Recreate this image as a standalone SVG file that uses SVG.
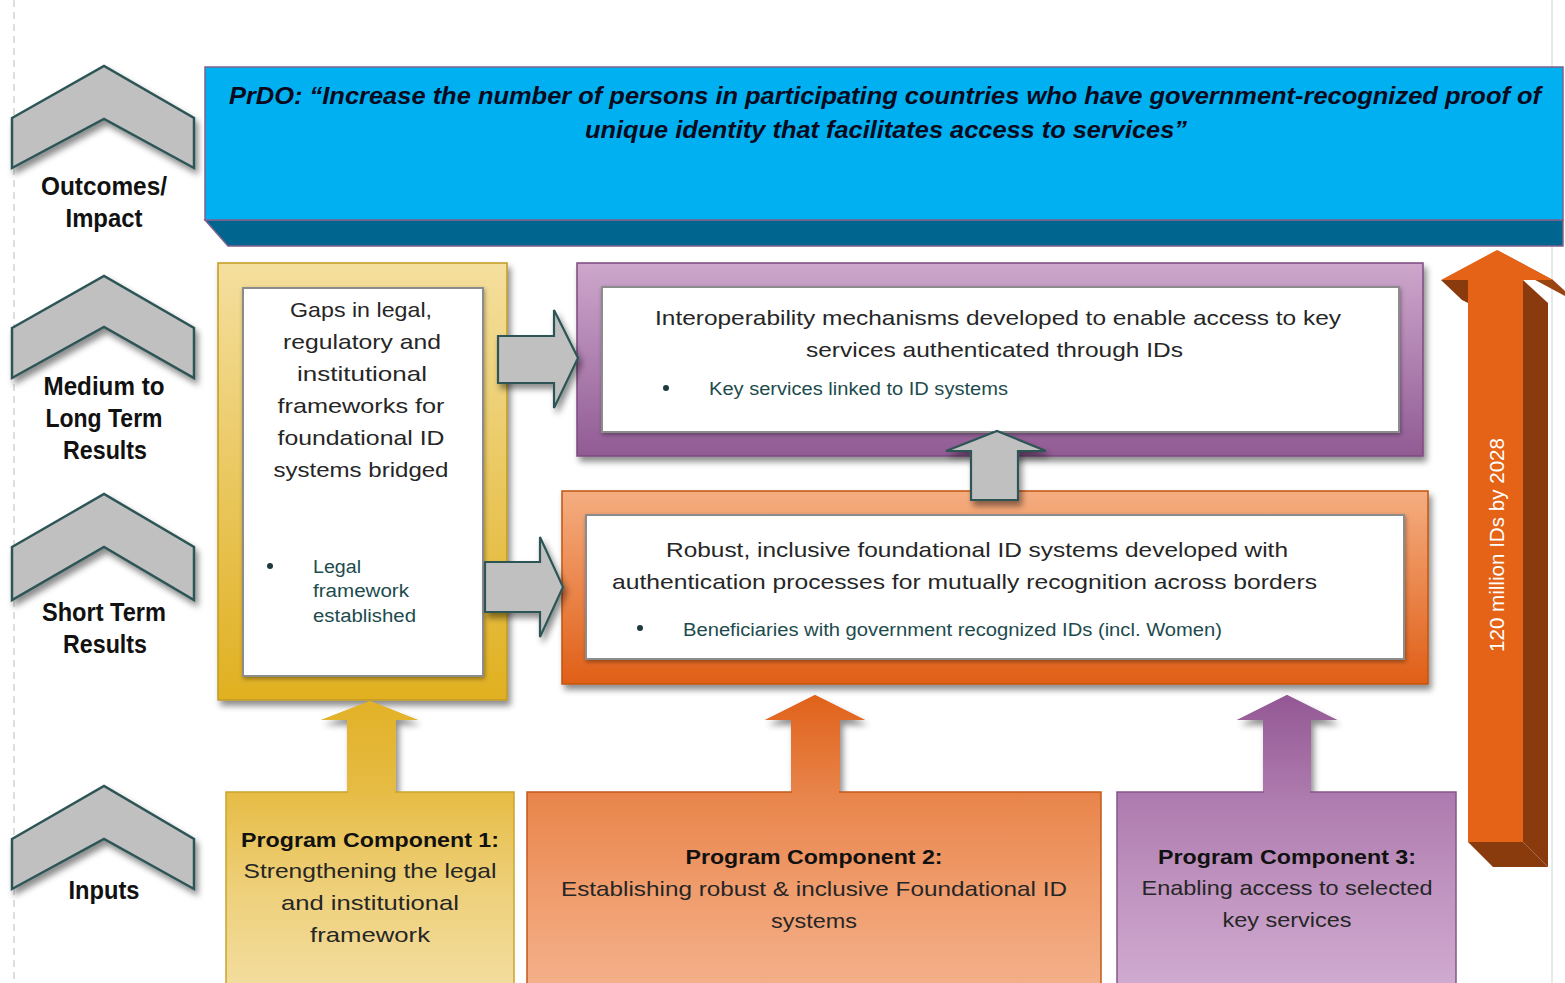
<svg xmlns="http://www.w3.org/2000/svg" width="1565" height="983" viewBox="0 0 1565 983">
<defs>
<style>
.lbl{font-family:"Liberation Sans",Arial,sans-serif;font-weight:bold;font-size:25px;fill:#111;text-anchor:middle}
.body{font-family:"Liberation Sans",Arial,sans-serif;font-size:21px;fill:#262626}
.bul{font-family:"Liberation Sans",Arial,sans-serif;font-size:18px;fill:#1d4b4d}
.top{font-family:"Liberation Sans",Arial,sans-serif;font-size:24px;font-weight:bold;font-style:italic;fill:#0a0a1e}
.bold{font-weight:bold;fill:#111}
.chev{fill:#c0c0c0;stroke:#2e5557;stroke-width:2.5;stroke-linejoin:miter}
.garrow{fill:#c0c0c0;stroke:#2e5557;stroke-width:2.2}
.inner{fill:#ffffff;stroke:#8c8c8c;stroke-width:2}
</style>
<filter id="sh" x="-10%" y="-10%" width="125%" height="130%">
<feDropShadow dx="3" dy="5" stdDeviation="3" flood-color="#000" flood-opacity="0.45"/>
</filter>
<filter id="shi" x="-5%" y="-5%" width="110%" height="110%">
<feDropShadow dx="1" dy="2" stdDeviation="2" flood-color="#000" flood-opacity="0.35"/>
</filter>
<linearGradient id="gy" x1="0" y1="0" x2="0" y2="1"><stop offset="0" stop-color="#f4df9e"/><stop offset="1" stop-color="#e0b020"/></linearGradient>
<linearGradient id="gp" x1="0" y1="0" x2="0" y2="1"><stop offset="0" stop-color="#cda7cc"/><stop offset="1" stop-color="#915b94"/></linearGradient>
<linearGradient id="go" x1="0" y1="0" x2="0" y2="1"><stop offset="0" stop-color="#f5ad80"/><stop offset="1" stop-color="#e05f17"/></linearGradient>
<linearGradient id="gyi" x1="0" y1="0" x2="0" y2="1"><stop offset="0" stop-color="#e6bc45"/><stop offset="0.5" stop-color="#eed07a"/><stop offset="1" stop-color="#f3dd9f"/></linearGradient>
<linearGradient id="goi" x1="0" y1="0" x2="0" y2="1"><stop offset="0" stop-color="#e8844a"/><stop offset="0.5" stop-color="#f09c6c"/><stop offset="1" stop-color="#f4b08a"/></linearGradient>
<linearGradient id="gpi" x1="0" y1="0" x2="0" y2="1"><stop offset="0" stop-color="#ad7aad"/><stop offset="0.5" stop-color="#c094c0"/><stop offset="1" stop-color="#d0abd0"/></linearGradient>
<linearGradient id="ayi" x1="0" y1="0" x2="0" y2="1"><stop offset="0" stop-color="#e2b126"/><stop offset="1" stop-color="#e6bc45"/></linearGradient>
<linearGradient id="aoi" x1="0" y1="0" x2="0" y2="1"><stop offset="0" stop-color="#e0621a"/><stop offset="1" stop-color="#e8844a"/></linearGradient>
<linearGradient id="api" x1="0" y1="0" x2="0" y2="1"><stop offset="0" stop-color="#935894"/><stop offset="1" stop-color="#ad7aad"/></linearGradient>
</defs>
<rect width="1565" height="983" fill="#ffffff"/>
<line x1="14" y1="0" x2="14" y2="983" stroke="#d4d4d4" stroke-width="1.5" stroke-dasharray="7,5"/>
<line x1="1552" y1="0" x2="1552" y2="983" stroke="#dcdcdc" stroke-width="1.2"/>

<g id="chevron-outcomes">
<path class="chev" filter="url(#sh)" d="M12,118 L104,66 L194,118 L194,168 L104,119 L12,168 Z"/>
<text class="lbl" x="104" y="195" textLength="126" lengthAdjust="spacingAndGlyphs">Outcomes/</text>
<text class="lbl" x="104" y="227" textLength="77" lengthAdjust="spacingAndGlyphs">Impact</text>
</g>
<g id="chevron-medium">
<path class="chev" filter="url(#sh)" d="M12,328 L104,276 L194,328 L194,378 L104,327 L12,378 Z"/>
<text class="lbl" x="104" y="395" textLength="121" lengthAdjust="spacingAndGlyphs">Medium to</text>
<text class="lbl" x="104" y="427" textLength="117" lengthAdjust="spacingAndGlyphs">Long Term</text>
<text class="lbl" x="105" y="459" textLength="84" lengthAdjust="spacingAndGlyphs">Results</text>
</g>
<g id="chevron-short">
<path class="chev" filter="url(#sh)" d="M12,547 L104,494 L194,547 L194,600 L104,547 L12,600 Z"/>
<text class="lbl" x="104" y="621" textLength="124" lengthAdjust="spacingAndGlyphs">Short Term</text>
<text class="lbl" x="105" y="653" textLength="84" lengthAdjust="spacingAndGlyphs">Results</text>
</g>
<g id="chevron-inputs">
<path class="chev" filter="url(#sh)" d="M12,839 L104,786 L194,839 L194,889 L104,839 L12,889 Z"/>
<text class="lbl" x="104" y="899" textLength="71" lengthAdjust="spacingAndGlyphs">Inputs</text>
</g>

<g id="prdo">
<path d="M205,220 L1563,220 L1563,246 L228,246 Z" fill="#00668f" stroke="#80608a" stroke-width="1.5"/>
<rect x="205" y="67" width="1358" height="153" fill="#00b0f0" stroke="#80608a" stroke-width="1.5"/>
<text class="top" x="229" y="104" textLength="1312" lengthAdjust="spacingAndGlyphs">PrDO: “Increase the number of persons in participating countries who have government-recognized proof of</text>
<text class="top" x="585" y="138" textLength="602" lengthAdjust="spacingAndGlyphs">unique identity that facilitates access to services”</text>
</g>

<g id="ids-arrow">
<polygon points="1523,280 1548,303 1548,867 1523,842" fill="#8a3b0e"/>
<polygon points="1468,842 1523,842 1548,867 1493,867" fill="#8a3b0e"/>
<polygon points="1497,250 1553,280 1578,303 1522,273" fill="#9a4412"/>
<polygon points="1441,280 1468,280 1468,303 1462,300" fill="#8a3b0e"/>
<polygon points="1497,250 1553,280 1523,280 1523,842 1468,842 1468,280 1441,280" fill="#e46316"/>
<text x="1504" y="545" transform="rotate(-90 1504 545)" text-anchor="middle" font-family="'Liberation Sans',Arial,sans-serif" font-size="20" fill="#ffffff" textLength="214" lengthAdjust="spacingAndGlyphs">120 million IDs by 2028</text>
</g>

<g id="legal-frameworks">
<rect x="218" y="263" width="289" height="437" fill="url(#gy)" stroke="#c09a20" stroke-width="1.5" filter="url(#sh)"/>
<rect class="inner" x="243" y="288" width="240" height="388" filter="url(#shi)"/>
<g class="body" text-anchor="middle">
<text x="361" y="317" textLength="142" lengthAdjust="spacingAndGlyphs">Gaps in legal,</text>
<text x="362" y="349" textLength="158" lengthAdjust="spacingAndGlyphs">regulatory and</text>
<text x="362" y="381" textLength="130" lengthAdjust="spacingAndGlyphs">institutional</text>
<text x="361" y="413" textLength="167" lengthAdjust="spacingAndGlyphs">frameworks for</text>
<text x="361" y="445" textLength="167" lengthAdjust="spacingAndGlyphs">foundational ID</text>
<text x="361" y="477" textLength="175" lengthAdjust="spacingAndGlyphs">systems bridged</text>
</g>
<circle cx="270" cy="566" r="3" fill="#1d3b3d"/>
<text class="bul" x="313" y="573" textLength="48" lengthAdjust="spacingAndGlyphs">Legal</text>
<text class="bul" x="313" y="597" textLength="96" lengthAdjust="spacingAndGlyphs">framework</text>
<text class="bul" x="313" y="622" textLength="103" lengthAdjust="spacingAndGlyphs">established</text>
</g>

<g id="interoperability">
<rect x="577" y="263" width="846" height="193" fill="url(#gp)" stroke="#7c4a7f" stroke-width="1.5" filter="url(#sh)"/>
<rect class="inner" x="602" y="287" width="797" height="145" filter="url(#shi)"/>
<text class="body" x="655" y="325" textLength="686" lengthAdjust="spacingAndGlyphs">Interoperability mechanisms developed to enable access to key</text>
<text class="body" x="806" y="357" textLength="377" lengthAdjust="spacingAndGlyphs">services authenticated through IDs</text>
<circle cx="666" cy="388" r="3" fill="#1d3b3d"/>
<text class="bul" x="709" y="395" textLength="299" lengthAdjust="spacingAndGlyphs">Key services linked to ID systems</text>
</g>

<g id="foundational-id">
<rect x="562" y="491" width="866" height="193" fill="url(#go)" stroke="#c0540f" stroke-width="1.5" filter="url(#sh)"/>
<rect class="inner" x="586" y="515" width="818" height="144" filter="url(#shi)"/>
<text class="body" x="666" y="557" textLength="622" lengthAdjust="spacingAndGlyphs">Robust, inclusive foundational ID systems developed with</text>
<text class="body" x="612" y="589" textLength="705" lengthAdjust="spacingAndGlyphs">authentication processes for mutually recognition across borders</text>
<circle cx="640" cy="628" r="3" fill="#1d3b3d"/>
<text class="bul" x="683" y="636" textLength="539" lengthAdjust="spacingAndGlyphs">Beneficiaries with government recognized IDs (incl. Women)</text>
</g>

<g id="component-1">
<polygon points="347,792 347,720 321,720 370,701 418,720 396,720 396,792" fill="url(#ayi)" filter="url(#sh)"/>
<rect x="226" y="792" width="288" height="195" fill="url(#gyi)" stroke="#c9a42e" stroke-width="1.5"/>
<polygon points="348,794 348,720 321,720 370,701 418,720 395,720 395,794" fill="url(#ayi)"/>
<g class="body" text-anchor="middle">
<text class="bold" x="370" y="847" textLength="258" lengthAdjust="spacingAndGlyphs">Program Component 1:</text>
<text x="370" y="878" textLength="253" lengthAdjust="spacingAndGlyphs">Strengthening the legal</text>
<text x="370" y="910" textLength="178" lengthAdjust="spacingAndGlyphs">and institutional</text>
<text x="370" y="942" textLength="120" lengthAdjust="spacingAndGlyphs">framework</text>
</g>
</g>

<g id="component-2">
<polygon points="791,792 791,720 765,720 815,695 865,720 840,720 840,792" fill="url(#aoi)" filter="url(#sh)"/>
<rect x="527" y="792" width="574" height="195" fill="url(#goi)" stroke="#c4581a" stroke-width="1.5"/>
<polygon points="792,794 792,720 765,720 815,695 865,720 839,720 839,794" fill="url(#aoi)"/>
<g class="body" text-anchor="middle">
<text class="bold" x="814" y="864" textLength="257" lengthAdjust="spacingAndGlyphs">Program Component 2:</text>
<text x="814" y="896" textLength="506" lengthAdjust="spacingAndGlyphs">Establishing robust &amp; inclusive Foundational ID</text>
<text x="814" y="928" textLength="86" lengthAdjust="spacingAndGlyphs">systems</text>
</g>
</g>

<g id="component-3">
<polygon points="1263,792 1263,720 1237,720 1287,695 1337,720 1311,720 1311,792" fill="url(#api)" filter="url(#sh)"/>
<rect x="1117" y="792" width="339" height="195" fill="url(#gpi)" stroke="#86558a" stroke-width="1.5"/>
<polygon points="1264,794 1264,720 1237,720 1287,695 1337,720 1310,720 1310,794" fill="url(#api)"/>
<g class="body" text-anchor="middle">
<text class="bold" x="1287" y="864" textLength="258" lengthAdjust="spacingAndGlyphs">Program Component 3:</text>
<text x="1287" y="895" textLength="291" lengthAdjust="spacingAndGlyphs">Enabling access to selected</text>
<text x="1287" y="927" textLength="129" lengthAdjust="spacingAndGlyphs">key services</text>
</g>
</g>

<g id="connectors">
<polygon class="garrow" filter="url(#sh)" points="498,336 554,336 554,310 578,358 554,408 554,383 498,383"/>
<polygon class="garrow" filter="url(#sh)" points="485,562 540,562 540,537 563,587 540,637 540,612 485,612"/>
<polygon class="garrow" filter="url(#sh)" points="971,500 971,451 946,451 997,431 1046,451 1018,451 1018,500"/>
</g>
</svg>
